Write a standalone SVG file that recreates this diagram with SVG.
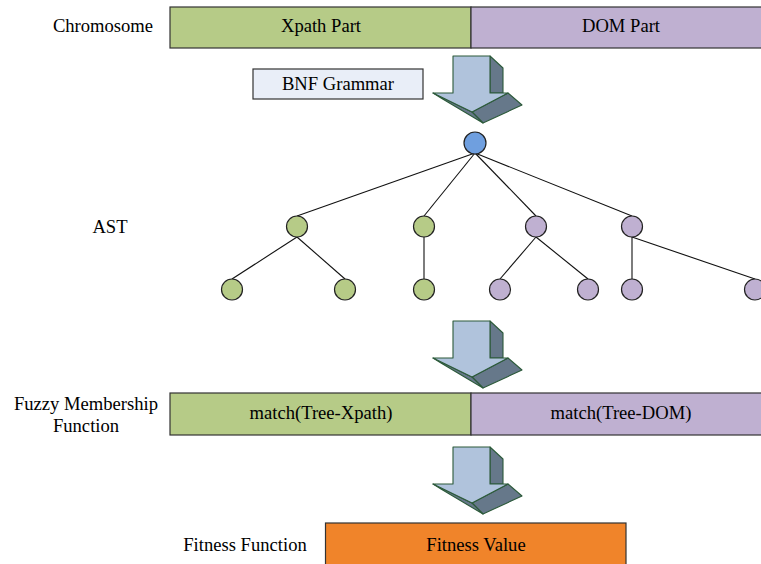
<svg xmlns="http://www.w3.org/2000/svg" width="761" height="564" viewBox="0 0 761 564">
<defs>
<style>
text{font-family:"Liberation Serif","Times New Roman",serif;font-size:18.6px;fill:#000;}
.c{text-anchor:middle;}
.bar{stroke:#333;stroke-width:1.2;}
.g{fill:#b6cb87;}
.p{fill:#bfb0d1;}
.n{stroke:#222;stroke-width:1.2;}
.e{stroke:#111;stroke-width:1.1;fill:none;}
.af{fill:#b0c3dc;stroke:#2c5a3a;stroke-width:1.1;stroke-linejoin:round;}
.ad{fill:#66788a;stroke:#2c5a3a;stroke-width:1.1;stroke-linejoin:round;}
</style>
<g id="arrowShape">
<polygon class="ad" points="490,56 503,68 503,93 490,93"/>
<polygon class="ad" points="472,112 508,93 522,105 483,123"/>
<polygon class="ad" points="433,93 441,98 483,123 472,112"/>
<polygon class="af" points="453,56 490,56 490,93 508,93 472,112 433,93 453,93"/>
</g>
</defs>
<rect width="761" height="564" fill="#fff"/>

<g id="labels">
<text class="c" x="103" y="32">Chromosome</text>
<text class="c" x="110" y="233">AST</text>
<text class="c" x="86" y="410">Fuzzy Membership</text>
<text class="c" x="86" y="432">Function</text>
<text class="c" x="245" y="551">Fitness Function</text>
</g>

<g id="chromosome">
<rect class="bar g" x="170" y="7" width="301" height="41"/>
<rect class="bar p" x="471" y="7" width="300" height="41"/>
<text class="c" x="321" y="32">Xpath Part</text>
<text class="c" x="621" y="32">DOM Part</text>
</g>

<g id="bnf">
<rect x="253" y="69" width="170" height="30" fill="#e9eef8" stroke="#333" stroke-width="1.2"/>
<text class="c" x="338" y="90">BNF Grammar</text>
</g>

<g id="arrow1"><use href="#arrowShape"/></g>
<g id="arrow2"><use href="#arrowShape" transform="translate(0,265)"/></g>
<g id="arrow3"><use href="#arrowShape" transform="translate(0,391)"/></g>

<g id="connectors">
<line class="e" x1="475" y1="153" x2="297" y2="216"/>
<line class="e" x1="475" y1="153" x2="424" y2="216"/>
<line class="e" x1="475" y1="153" x2="536" y2="216"/>
<line class="e" x1="475" y1="153" x2="632" y2="216"/>
<line class="e" x1="297" y1="237" x2="232" y2="279"/>
<line class="e" x1="297" y1="237" x2="345" y2="279"/>
<line class="e" x1="424" y1="237" x2="424" y2="279"/>
<line class="e" x1="536" y1="237" x2="500" y2="279"/>
<line class="e" x1="536" y1="237" x2="588" y2="279"/>
<line class="e" x1="632" y1="237" x2="632" y2="279"/>
<line class="e" x1="632" y1="237" x2="755" y2="279"/>
</g>

<g id="root"><circle class="n" cx="475" cy="143" r="11" fill="#6f9fdf"/></g>
<g id="n1"><circle class="n g" cx="297" cy="226.5" r="10.5"/></g>
<g id="n2"><circle class="n g" cx="424" cy="226.5" r="10.5"/></g>
<g id="n3"><circle class="n p" cx="536" cy="226.5" r="10.5"/></g>
<g id="n4"><circle class="n p" cx="632" cy="226.5" r="10.5"/></g>
<g id="n11"><circle class="n g" cx="232" cy="289.5" r="10.5"/></g>
<g id="n12"><circle class="n g" cx="345" cy="289.5" r="10.5"/></g>
<g id="n21"><circle class="n g" cx="424" cy="289.5" r="10.5"/></g>
<g id="n31"><circle class="n p" cx="500" cy="289.5" r="10.5"/></g>
<g id="n32"><circle class="n p" cx="588" cy="289.5" r="10.5"/></g>
<g id="n41"><circle class="n p" cx="632" cy="289.5" r="10.5"/></g>
<g id="n42"><circle class="n p" cx="755" cy="289.5" r="10.5"/></g>

<g id="fuzzy">
<rect class="bar g" x="170" y="393" width="301" height="42"/>
<rect class="bar p" x="471" y="393" width="300" height="42"/>
<text class="c" x="321" y="419">match(Tree-Xpath)</text>
<text class="c" x="621" y="419">match(Tree-DOM)</text>
</g>

<g id="fitness">
<rect x="325.5" y="523" width="300.5" height="50" fill="#f0842a" stroke="#333" stroke-width="1.2"/>
<text class="c" x="476" y="551">Fitness Value</text>
</g>
</svg>
